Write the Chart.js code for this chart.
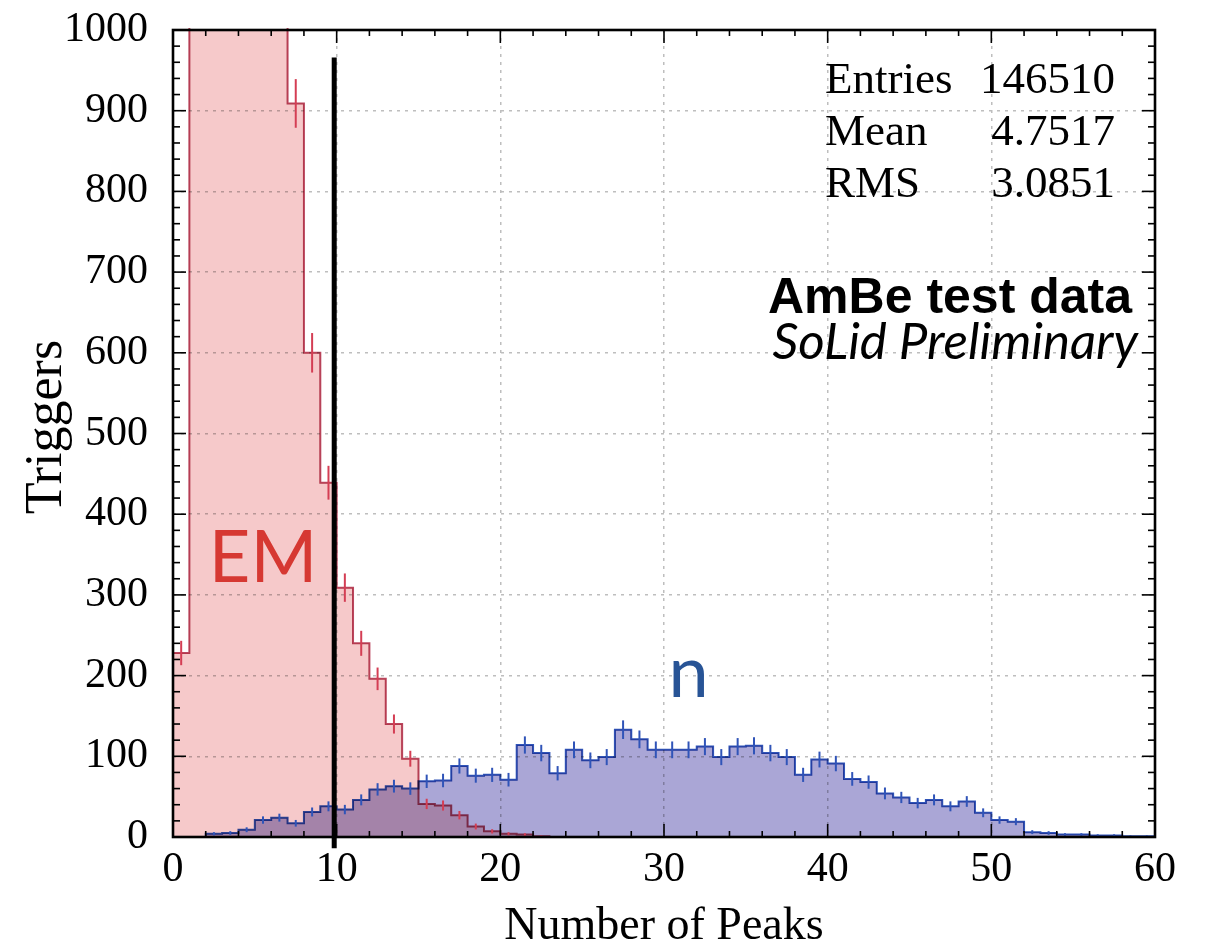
<!DOCTYPE html>
<html>
<head>
<meta charset="utf-8">
<title>Number of Peaks – AmBe test data</title>
<script src="https://cdn.jsdelivr.net/npm/chart.js@4.4.1/dist/chart.umd.min.js"></script>
<style>
  html, body { margin: 0; padding: 0; background: #ffffff; }
  #wrap { width: 1209px; height: 949px; }
</style>
</head>
<body>
<div id="wrap"><canvas id="peaks" width="1209" height="949"></canvas></div>
<script>
// Per-bin trigger counts, one bin per peak count (0-1, 1-2, ..., 59-60)
const emCounts = [
  228, 3400, 9800, 12500, 9100, 4600, 1700, 909, 600, 439,
  309, 240, 196, 140, 97, 41, 39, 27, 13, 7,
  4, 3, 1, 0, 0, 0, 0, 0, 0, 0,
  0, 0, 0, 0, 0, 0, 0, 0, 0, 0,
  0, 0, 0, 0, 0, 0, 0, 0, 0, 0,
  0, 0, 0, 0, 0, 0, 0, 0, 0, 0
];
const nCounts = [
  0, 0, 4, 5, 9, 21, 24, 17, 31, 38,
  34, 46, 59, 63, 60, 69, 70, 88, 76, 77,
  71, 114, 104, 79, 108, 95, 99, 133, 121, 108,
  108, 108, 112, 99, 112, 113, 104, 99, 77, 96,
  91, 72, 68, 54, 49, 42, 46, 38, 44, 30,
  21, 19, 6, 5, 3, 3, 2, 2, 1, 1
];
const xTicks = [0, 10, 20, 30, 40, 50, 60];
const yTicks = [0, 100, 200, 300, 400, 500, 600, 700, 800, 900, 1000];
const statNames = ['Entries', 'Mean', 'RMS'];
const statValues = ['146510', '4.7517', '3.0851'];
// Selection cut on the number of peaks, drawn as a vertical line
const cutX = [9.85, 9.85];
const cutY = [-14, 966];

const SERIF = '"Liberation Serif", "DejaVu Serif", serif';
const SANS = 'Lato, "Open Sans", "Liberation Sans", sans-serif';

// Histogram outline: each bin starts at its lower edge, closed at the last upper edge
function toSteps(counts) {
  const pts = counts.map((v, i) => ({ x: i, y: v }));
  pts.push({ x: counts.length, y: 0 });
  return pts;
}

const EM_LINE = 'rgb(186,70,94)';
const EM_ERR = 'rgb(212,62,84)';
const N_LINE = 'rgb(48,84,184)';

function strokeLine(ctx, x1, y1, x2, y2) {
  ctx.beginPath(); ctx.moveTo(x1, y1); ctx.lineTo(x2, y2); ctx.stroke();
}

// Overlapping fills are combined multiplicatively so the overlap turns purple
const blendAndErrors = {
  id: 'blendAndErrors',
  beforeDatasetsDraw(chart) {
    chart.ctx.save();
    chart.ctx.globalCompositeOperation = 'multiply';
  },
  afterDatasetsDraw(chart) {
    const ctx = chart.ctx;
    ctx.restore();
    const { chartArea: a, scales: { x, y } } = chart;
    ctx.save();
    ctx.beginPath();
    ctx.rect(a.left, a.top, a.right - a.left, a.bottom - a.top);
    ctx.clip();
    ctx.lineWidth = 2;
    const drawErr = (counts, color) => {
      ctx.strokeStyle = color;
      counts.forEach((v, i) => {
        if (v <= 0) return;
        const e = Math.sqrt(v);
        const px = x.getPixelForValue(i + 0.5);
        strokeLine(ctx, px, y.getPixelForValue(v - e), px, y.getPixelForValue(v + e));
      });
    };
    drawErr(emCounts, EM_ERR);
    drawErr(nCounts, N_LINE);
    ctx.restore();
  }
};

// Frame with inward-pointing major/minor ticks on all four sides
const frame = {
  id: 'frame',
  afterDraw(chart) {
    const { ctx, chartArea: a, scales: { x, y } } = chart;
    ctx.save();
    ctx.strokeStyle = '#000';
    ctx.lineWidth = 1.6;
    for (let v = 0; v <= 60; v += 2) {
      const px = x.getPixelForValue(v);
      const L = v % 10 === 0 ? 13 : 6;
      strokeLine(ctx, px, a.bottom, px, a.bottom - L);
      strokeLine(ctx, px, a.top, px, a.top + L);
    }
    for (let v = 0; v <= 1000; v += 20) {
      const py = y.getPixelForValue(v);
      const L = v % 100 === 0 ? 13 : 7;
      strokeLine(ctx, a.left, py, a.left + L, py);
      strokeLine(ctx, a.right, py, a.right - L, py);
    }
    ctx.lineWidth = 2.6;
    ctx.strokeRect(a.left, a.top, a.right - a.left, a.bottom - a.top);
    ctx.restore();
  }
};

// Axis titles, statistics block and annotations
const texts = {
  id: 'texts',
  afterDraw(chart) {
    const { ctx, chartArea: a, scales: { x, y } } = chart;
    ctx.save();
    ctx.fillStyle = '#000';

    // axis titles
    ctx.font = '46px ' + SERIF;
    ctx.textAlign = 'center';
    ctx.textBaseline = 'alphabetic';
    ctx.fillText('Number of Peaks', (a.left + a.right) / 2, 939);
    ctx.save();
    ctx.translate(61, 427);
    ctx.rotate(-Math.PI / 2);
    ctx.font = '52px ' + SERIF;
    ctx.fillText('Triggers', 0, 0);
    ctx.restore();

    // statistics
    ctx.font = '45px ' + SERIF;
    statNames.forEach((name, i) => {
      const by = 93 + i * 52;
      ctx.textAlign = 'left';
      ctx.fillText(name, a.right - 330, by);
      ctx.textAlign = 'right';
      ctx.fillText(statValues[i], a.right - 40, by);
    });

    // data set labels
    ctx.textAlign = 'right';
    ctx.font = 'bold 50px "Liberation Sans", Arial, sans-serif';
    ctx.fillText('AmBe test data', a.right - 23, 313);
    ctx.font = 'italic 51px ' + SANS;
    ctx.fillText('SoLid Preliminary', a.right - 17, 359);

    ctx.textAlign = 'center';
    ctx.font = '72px ' + SANS;
    ctx.fillStyle = 'rgb(214,56,50)';
    ctx.fillText('EM', x.getPixelForValue(5.5), y.getPixelForValue(316));
    ctx.fillStyle = 'rgb(40,84,150)';
    ctx.fillText('n', x.getPixelForValue(31.5), y.getPixelForValue(173));
    ctx.restore();
  }
};

const gridColor = (edgeValues) => (c) =>
  (c.tick && edgeValues.includes(c.tick.value)) ? 'rgba(0,0,0,0)' : 'rgb(190,190,190)';

new Chart(document.getElementById('peaks'), {
  type: 'line',
  data: {
    datasets: [
      {
        label: 'cut',
        data: cutX.map((v, i) => ({ x: v, y: cutY[i] })),
        borderColor: '#000',
        borderWidth: 5,
        pointRadius: 0,
        fill: false,
        clip: false,
        order: 0
      },
      {
        label: 'n',
        data: toSteps(nCounts),
        stepped: true,
        fill: 'origin',
        backgroundColor: 'rgb(170,166,214)',
        borderColor: N_LINE,
        borderWidth: 2,
        pointRadius: 0,
        clip: 2,
        order: 1
      },
      {
        label: 'EM',
        data: toSteps(emCounts),
        stepped: true,
        fill: 'origin',
        backgroundColor: 'rgb(246,201,202)',
        borderColor: EM_LINE,
        borderWidth: 2,
        pointRadius: 0,
        clip: 2,
        order: 2
      }
    ]
  },
  options: {
    responsive: false,
    devicePixelRatio: 1,
    animation: false,
    layout: { padding: { top: 30, right: 54, left: 0, bottom: 0 } },
    plugins: { legend: { display: false }, tooltip: { enabled: false } },
    scales: {
      x: {
        type: 'linear',
        min: 0,
        max: 60,
        afterBuildTicks: (s) => { s.ticks = xTicks.map(v => ({ value: v })); },
        ticks: {
          color: '#000',
          font: { family: SERIF, size: 42 },
          padding: 8,
          maxRotation: 0,
          autoSkip: false,
          callback: (v) => String(v)
        },
        grid: { color: gridColor([0, 60]), lineWidth: 1.5, drawTicks: false },
        border: { display: false, dash: [3, 5] },
        afterFit: (s) => {
          s.height = 949 - 837;
          s.paddingLeft = 0; s.paddingRight = 0;
        }
      },
      y: {
        type: 'linear',
        min: 0,
        max: 1000,
        afterBuildTicks: (s) => { s.ticks = yTicks.map(v => ({ value: v })); },
        ticks: {
          color: '#000',
          font: { family: SERIF, size: 42 },
          padding: 25,
          autoSkip: false,
          callback: (v) => String(v)
        },
        grid: { color: gridColor([0, 1000]), lineWidth: 1.5, drawTicks: false },
        border: { display: false, dash: [3, 5] },
        afterFit: (s) => {
          s.width = 173;
          s.paddingTop = 0; s.paddingBottom = 0;
        }
      }
    }
  },
  plugins: [blendAndErrors, frame, texts]
});
</script>
</body>
</html>
